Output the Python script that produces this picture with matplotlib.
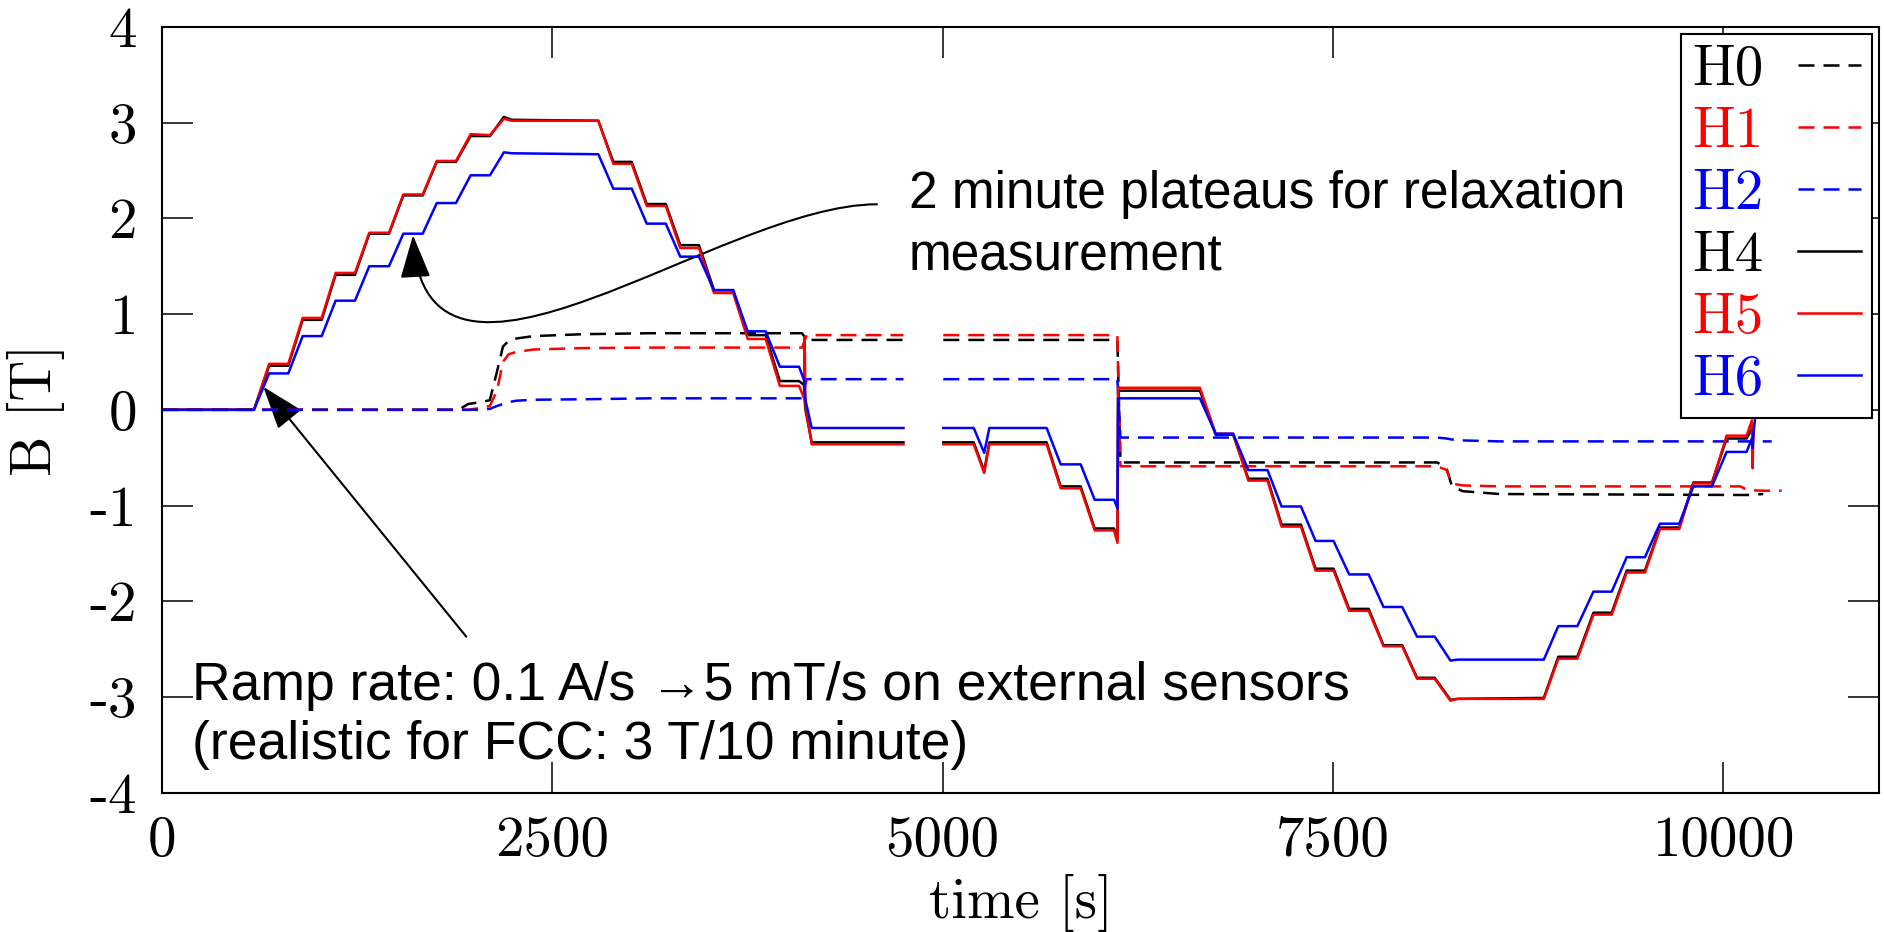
import numpy as np
import matplotlib
matplotlib.use("Agg")
import matplotlib.pyplot as plt
from matplotlib.path import Path
from matplotlib.patches import FancyArrowPatch

nan = np.nan

# solid sensors H4, H5, H6: ramp / plateau vertices (time in s, B in T)
t_solid = [0, 589, 686, 809, 901, 1023, 1112, 1236, 1328, 1454,
           1546, 1670, 1760, 1883, 1977, 2101, 2190, 2240, 2795, 2891,
           3009, 3105, 3227, 3320, 3440, 3536, 3659, 3752, 3867, 3958,
           4081, 4113, 4117, 4122, 4162, 4750, nan, 5005, 5200, 5267,
           5300, 5667, 5757, 5885, 5975, 6099, 6121, 6125, 6649, 6750,
           6862, 6959, 7082, 7172, 7296, 7390, 7505, 7605, 7730, 7825,
           7945, 8040, 8153, 8254, 8300, 8852, 8945, 9067, 9170, 9287,
           9383, 9500, 9596, 9720, 9810, 9929, 10023, 10151, 10185, 10190,
           10195, 10215]
H4 = [0, 0, 0.46, 0.46, 0.94, 0.94, 1.41, 1.41, 1.84, 1.84,
      2.24, 2.24, 2.59, 2.59, 2.86, 2.86, 3.06, 3.03, 3.02, 2.59,
      2.59, 2.15, 2.15, 1.72, 1.72, 1.25, 1.25, 0.78, 0.78, 0.30,
      0.30, 0.26, 0.10, 0.0, -0.34, -0.34, nan, -0.34, -0.34, -0.64,
      -0.34, -0.34, -0.80, -0.80, -1.24, -1.24, -1.36, 0.20, 0.20, -0.26,
      -0.26, -0.72, -0.72, -1.20, -1.20, -1.66, -1.66, -2.08, -2.08, -2.46,
      -2.46, -2.80, -2.80, -3.03, -3.02, -3.01, -2.58, -2.58, -2.12, -2.12,
      -1.68, -1.68, -1.23, -1.23, -0.76, -0.76, -0.30, -0.30, -0.20, -0.32,
      -0.25, nan]
H5 = [0, 0, 0.48, 0.48, 0.96, 0.96, 1.43, 1.43, 1.85, 1.85,
      2.25, 2.25, 2.60, 2.60, 2.88, 2.87, 3.04, 3.02, 3.02, 2.57,
      2.57, 2.13, 2.13, 1.69, 1.69, 1.22, 1.22, 0.74, 0.74, 0.25,
      0.25, 0.12, 0.76, 0.05, -0.36, -0.36, nan, -0.36, -0.36, -0.66,
      -0.36, -0.36, -0.82, -0.82, -1.26, -1.26, -1.39, 0.23, 0.23, -0.25,
      -0.25, -0.74, -0.74, -1.22, -1.22, -1.68, -1.68, -2.10, -2.10, -2.47,
      -2.47, -2.81, -2.81, -3.04, -3.02, -3.02, -2.60, -2.60, -2.14, -2.14,
      -1.70, -1.70, -1.245, -1.245, -0.77, -0.77, -0.27, -0.27, -0.11, -0.61,
      -0.15, nan]
H6 = [0, 0, 0.38, 0.38, 0.77, 0.77, 1.14, 1.14, 1.50, 1.50,
      1.84, 1.84, 2.16, 2.16, 2.45, 2.45, 2.69, 2.68, 2.67, 2.31,
      2.31, 1.945, 1.945, 1.60, 1.60, 1.25, 1.25, 0.82, 0.82, 0.45,
      0.45, 0.31, 0.20, 0.10, -0.19, -0.19, nan, -0.19, -0.19, -0.45,
      -0.19, -0.19, -0.57, -0.57, -0.94, -0.94, -1.03, 0.12, 0.12, -0.25,
      -0.25, -0.63, -0.63, -1.01, -1.01, -1.37, -1.37, -1.72, -1.72, -2.06,
      -2.06, -2.37, -2.37, -2.62, -2.61, -2.61, -2.26, -2.26, -1.90, -1.90,
      -1.54, -1.54, -1.19, -1.19, -0.80, -0.80, -0.44, -0.44, -0.30, -0.40,
      -0.25, 0.05]

# dashed sensors H0, H1, H2
t_dash = [0, 1900, 1960, 2040, 2100, 2146, 2184, 2220, 2270, 2380,
          2700, 3130, 4100, 4130, 4750, nan, 5005, 6120, 6140, 8170,
          8230, 8262, 8330, 8571, 10110, 10160, 10258, 10312, 10376]
H0 = [0, 0, 0.06, 0.08, 0.10, 0.40, 0.66, 0.72, 0.745, 0.77,
      0.79, 0.80, 0.80, 0.73, 0.73, nan, 0.73, 0.73, -0.55, -0.55,
      -0.62, -0.79, -0.85, -0.88, -0.89, -0.89, -0.88, nan, nan]
H1 = [0, 0, 0.0, 0.02, 0.04, 0.20, 0.50, 0.58, 0.605, 0.63,
      0.645, 0.65, 0.65, 0.78, 0.78, nan, 0.78, 0.78, -0.59, -0.59,
      -0.63, -0.77, -0.79, -0.80, -0.80, -0.84, -0.845, -0.845, -0.845]
H2 = [0, 0, 0, 0, 0.01, 0.04, 0.06, 0.08, 0.095, 0.105,
      0.11, 0.12, 0.12, 0.32, 0.32, nan, 0.32, 0.32, -0.29, -0.29,
      -0.30, -0.31, -0.32, -0.33, -0.33, -0.33, -0.33, -0.33, nan]

xticks = [0, 2500, 5000, 7500, 10000]
xtick_labels = ['0', '2500', '5000', '7500', '10000']
yticks = [-4, -3, -2, -1, 0, 1, 2, 3, 4]
ytick_labels = ['-4', '-3', '-2', '-1', '0', '1', '2', '3', '4']

cm = 'cmr10'
sans = ['Liberation Sans', 'DejaVu Sans']

fig = plt.figure(figsize=(18.84, 9.32), dpi=100)
ax = fig.add_axes([0.086, 0.1495, 0.9114, 0.8216])

lw = 1.8
dash = (6.4, 3.6)
ax.plot(t_dash, H0, color='black', lw=lw, dashes=dash, label='H0')
ax.plot(t_dash, H1, color='red', lw=lw, dashes=dash, label='H1')
ax.plot(t_dash, H2, color='blue', lw=lw, dashes=dash, label='H2')
ax.plot(t_solid, H4, color='black', lw=lw, label='H4')
ax.plot(t_solid, H5, color='red', lw=lw, label='H5')
ax.plot(t_solid, H6, color='blue', lw=lw, label='H6')

ax.set_xlim(0, 11000)
ax.set_ylim(-4, 4)
ax.set_xticks(xticks)
ax.set_xticklabels(xtick_labels, fontfamily=cm, fontsize=41)
ax.set_yticks(yticks)
ax.set_yticklabels(ytick_labels, fontfamily=cm, fontsize=41)
ax.tick_params(direction='in', length=22, width=1.1, top=True, right=True)
ax.tick_params(axis='x', pad=17)
ax.tick_params(axis='y', pad=18)
for s in ax.spines.values():
    s.set_linewidth(1.5)

ax.set_xlabel('time [s]', fontfamily=cm, fontsize=41, va='baseline')
ax.xaxis.set_label_coords(0.5, -0.164)
ax.set_ylabel('B [T]', fontfamily=cm, fontsize=41, va='center')
ax.yaxis.set_label_coords(-0.0734, 0.5)

leg = ax.legend(loc='upper right', bbox_to_anchor=(1, 1), borderaxespad=0.12,
                markerfirst=False, handlelength=1.11, handletextpad=0.6,
                labelspacing=0.19, borderpad=0.2, fancybox=False, framealpha=1,
                edgecolor='black', labelcolor='linecolor',
                prop={'family': cm, 'size': 41})
leg.get_frame().set_linewidth(1.5)

# annotations
head = '-|>,head_length=27,head_width=9.5'
curve = Path([(4580, 2.147), (3575, 2.147), (1685, -0.368), (1608, 1.823)],
             [Path.MOVETO, Path.CURVE4, Path.CURVE4, Path.CURVE4])
ax.add_patch(FancyArrowPatch(path=curve, arrowstyle=head, mutation_scale=1,
                             lw=1.5, color='black', transform=ax.transData))
ax.add_patch(FancyArrowPatch(posA=(1949, -2.37), posB=(649, 0.24), arrowstyle=head,
                             mutation_scale=1, shrinkA=0, shrinkB=0, lw=1.5,
                             color='black', transform=ax.transData))

ax.text(4786, 2.106, '2 minute plateaus for relaxation', fontsize=37, family=sans, va='baseline')
ax.text(4786, 1.455, 'measurement', fontsize=37, family=sans, va='baseline')
ax.text(192, -3.035, 'Ramp rate: 0.1 A/s \u21925 mT/s on external sensors', fontsize=38.5, family=sans, va='baseline')
ax.text(192, -3.65, '(realistic for FCC: 3 T/10 minute)', fontsize=38.5, family=sans, va='baseline')

fig.savefig('out.png', dpi=100)
